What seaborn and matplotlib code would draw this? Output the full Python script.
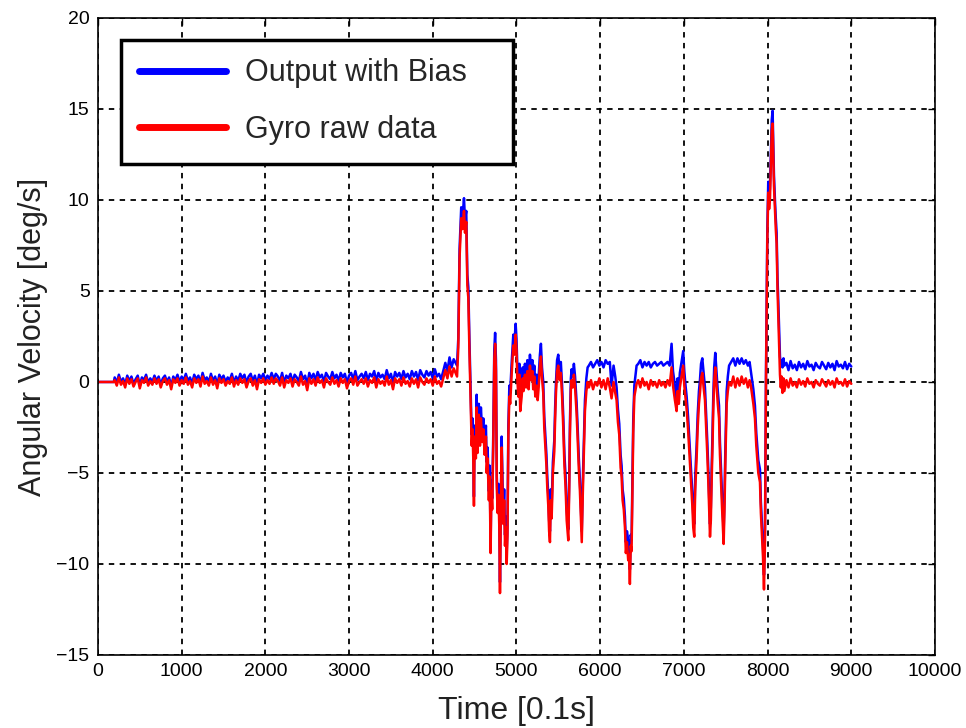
import numpy as np
import pandas as pd
import matplotlib
matplotlib.use("Agg")
import matplotlib.pyplot as plt
import seaborn as sns
from matplotlib import font_manager as fm

# ---------------- data ----------------
series_names = ["Output with Bias", "Gyro raw data"]
series_colors = ["#0000ff", "#ff0000"]

x_ticks = [0, 1000, 2000, 3000, 4000, 5000, 6000, 7000, 8000, 9000, 10000]
y_ticks = [-15, -10, -5, 0, 5, 10, 15, 20]

# idle lead-in
t_lead = [0, 190]
raw_lead = [0.0, 0.0]
out_lead = [0.0, 0.0]

# slow drift part, sampled every 25 (0.1 s units) from 200 to 4250
t_drift = list(range(200, 4251, 25))
raw_drift = [0.10, -0.20, 0.25, -0.15, 0.05, -0.30, 0.20, -0.10, 0.15, -0.25,
             0.00, 0.20, -0.35, 0.10, -0.05, 0.25, -0.20, 0.05, -0.15, 0.20,
             -0.10, 0.15, -0.30, 0.05, 0.20, -0.15, 0.10, -0.40, 0.15, -0.05,
             0.20, -0.20, 0.10, -0.10, 0.25, -0.15, 0.05, -0.30, 0.20, -0.05,
             0.15, -0.25, 0.30, -0.10, 0.05, -0.20, 0.25, -0.15, 0.10, -0.35,
             0.20, -0.05, 0.15, -0.20, 0.05, -0.10, 0.25, -0.25, 0.10, -0.15,
             0.20, -0.05, 0.15, -0.30, 0.05, 0.20, -0.20, 0.10, -0.40, 0.15,
             -0.05, 0.20, -0.15, 0.10, -0.10, 0.25, -0.10, 0.20, 0.05, -0.20,
             0.25, -0.30, 0.10, -0.05, 0.20, -0.25, 0.15, 0.00, -0.20, 0.30,
             -0.15, 0.05, -0.45, 0.20, -0.10, 0.15, -0.20, 0.25, -0.05, 0.10,
             -0.30, 0.20, 0.00, -0.15, 0.25, -0.10, 0.10, -0.25, 0.20, -0.05,
             0.15, -0.35, 0.05, 0.20, -0.15, 0.30, -0.20, 0.00, 0.15, -0.10,
             0.20, -0.25, 0.10, -0.05, 0.25, -0.30, 0.15, -0.10, 0.05, -0.20,
             0.30, -0.15, 0.10, -0.40, 0.20, -0.05, 0.15, -0.20, 0.25, -0.10,
             0.05, -0.25, 0.20, -0.10, 0.15, -0.30, 0.25, 0.00, -0.15, 0.20,
             -0.05, 0.15, -0.20, 0.30, -0.10, 0.05, -0.25, 0.20, 0.65, 0.20,
             0.85, 0.30, 0.75]
out_drift = [0.25, -0.05, 0.40, 0.00, 0.20, -0.15, 0.35, 0.05, 0.30, -0.10,
             0.15, 0.35, -0.20, 0.25, 0.10, 0.40, -0.05, 0.20, 0.00, 0.35,
             0.05, 0.30, -0.15, 0.20, 0.35, 0.00, 0.25, -0.25, 0.30, 0.10,
             0.40, 0.00, 0.30, 0.10, 0.45, 0.05, 0.25, -0.10, 0.40, 0.15,
             0.35, -0.05, 0.50, 0.10, 0.25, 0.00, 0.45, 0.05, 0.30, -0.15,
             0.40, 0.15, 0.35, 0.00, 0.25, 0.10, 0.45, -0.05, 0.30, 0.05,
             0.45, 0.20, 0.40, -0.05, 0.30, 0.45, 0.05, 0.35, -0.15, 0.40,
             0.20, 0.45, 0.10, 0.35, 0.15, 0.50, 0.15, 0.45, 0.30, 0.05,
             0.50, -0.05, 0.35, 0.20, 0.45, 0.00, 0.40, 0.25, 0.05, 0.55,
             0.15, 0.35, -0.15, 0.50, 0.20, 0.45, 0.10, 0.55, 0.25, 0.40,
             0.00, 0.50, 0.30, 0.15, 0.55, 0.20, 0.40, 0.05, 0.50, 0.25,
             0.45, -0.05, 0.35, 0.50, 0.15, 0.60, 0.10, 0.30, 0.45, 0.20,
             0.55, 0.10, 0.45, 0.30, 0.60, 0.05, 0.50, 0.25, 0.40, 0.15,
             0.65, 0.20, 0.45, -0.05, 0.55, 0.30, 0.50, 0.15, 0.60, 0.25,
             0.45, 0.15, 0.60, 0.30, 0.55, 0.10, 0.65, 0.40, 0.25, 0.60,
             0.35, 0.55, 0.20, 0.70, 0.30, 0.45, 0.15, 0.60, 1.05, 0.60,
             1.35, 0.80, 1.25]

# manoeuvre part
t_motion = [4290, 4305, 4320, 4340, 4355, 4373, 4385, 4400, 4413, 4425,
            4437, 4453, 4465, 4475, 4485, 4492, 4500, 4515, 4524, 4535,
            4550, 4564, 4575, 4590, 4604, 4620, 4635, 4644, 4655, 4670,
            4680, 4691, 4700, 4710, 4723, 4735, 4745, 4755, 4765, 4775,
            4785, 4795, 4803, 4812, 4823, 4833, 4843, 4853, 4863, 4873,
            4883, 4893, 4903, 4915, 4925, 4942, 4962, 4975, 4990, 5000,
            5010, 5022, 5035, 5045, 5062, 5075, 5085, 5101, 5115, 5130,
            5145, 5161, 5175, 5190, 5200, 5213, 5225, 5240, 5253, 5265,
            5280, 5292, 5305, 5320, 5332, 5345, 5358, 5368, 5380, 5390,
            5400, 5410, 5420, 5435, 5452, 5462, 5472, 5485, 5499, 5515,
            5530, 5545, 5559, 5573, 5587, 5600, 5619, 5630, 5639, 5650,
            5659, 5672, 5686, 5700, 5718, 5730, 5745, 5758, 5770, 5780,
            5792, 5805, 5818, 5835, 5850, 5865, 5890, 5915, 5940, 5965,
            5990, 6015, 6040, 6065, 6090, 6115, 6136, 6160, 6180, 6196,
            6212, 6228, 6244, 6256, 6268, 6282, 6296, 6307, 6320, 6335,
            6345, 6355, 6365, 6375, 6385, 6395, 6408, 6420, 6435, 6455,
            6480, 6505, 6530, 6555, 6580, 6605, 6630, 6655, 6680, 6705,
            6730, 6755, 6780, 6805, 6830, 6853, 6870, 6893, 6913, 6925,
            6940, 6952, 6975, 6992, 7005, 7020, 7033, 7050, 7062, 7073,
            7085, 7101, 7112, 7124, 7135, 7152, 7165, 7180, 7192, 7205,
            7220, 7236, 7252, 7265, 7280, 7292, 7302, 7312, 7322, 7331,
            7342, 7351, 7362, 7375, 7391, 7405, 7420, 7431, 7443, 7455,
            7465, 7475, 7485, 7495, 7511, 7525, 7540, 7565, 7590, 7615,
            7640, 7665, 7690, 7715, 7740, 7765, 7785, 7800, 7815, 7830,
            7849, 7865, 7889, 7909, 7920, 7935, 7945, 7957, 7969, 7981,
            7997, 8008, 8018, 8028, 8040, 8050, 8060, 8068, 8076, 8088,
            8098, 8108, 8118, 8128, 8138, 8148, 8158, 8168, 8178, 8190,
            8200]
raw_motion = [0.3, 1.9, 6.8, 9.0, 8.4, 9.4, 8.2, 8.8, 5.3, 4.6,
              1.9, -1.2, -3.5, -2.6, -4.4, -6.8, -3.0, -4.2, -1.4, -3.9,
              -1.8, -3.5, -2.0, -3.3, -2.6, -4.0, -3.0, -5.0, -4.2, -6.5,
              -5.2, -9.4, -6.0, -7.0, -3.4, 1.2, 2.1, 0.6, -5.8, -7.2,
              -6.2, -8.0, -11.6, -7.5, -3.6, -6.0, -7.8, -6.5, -9.0, -8.0,
              -10.0, -8.4, -3.0, -0.8, -1.2, 0.4, 2.0, 1.5, 2.6, 1.8,
              0.2, -0.8, 0.4, -1.6, -0.8, 0.2, -0.5, 0.4, -0.3, 0.6,
              -0.4, 0.9, 0.1, 0.6, -0.4, 0.3, -0.8, -0.2, -1.0, -0.3,
              0.9, 1.4, 0.2, -0.6, -2.5, -3.6, -4.6, -5.8, -6.8, -8.2,
              -8.8, -6.5, -7.5, -5.0, -3.8, -2.0, -0.6, 0.6, 0.9, 0.1,
              0.5, -0.8, -2.5, -4.6, -5.8, -7.6, -8.7, -6.0, -2.8, -0.4,
              0.1, -0.3, 0.4, -0.3, -1.7, -3.0, -4.8, -6.0, -7.6, -8.8,
              -6.2, -3.8, -1.6, -0.5, 0.0, -0.3, 0.1, -0.4, 0.0, -0.2,
              0.2, -0.3, 0.1, -0.4, 0.2, -0.3, -0.9, 0.0, -0.6, -1.0,
              -2.2, -2.9, -4.7, -5.2, -6.5, -7.0, -8.0, -9.4, -8.8, -9.8,
              -9.5, -11.1, -9.0, -9.3, -6.0, -2.8, -0.8, -0.5, -0.1, 0.1,
              -0.3, 0.2, -0.2, 0.0, -0.4, 0.1, -0.2, 0.0, -0.3, 0.1,
              -0.2, 0.0, -0.3, 0.1, -0.2, 0.8, -0.2, -1.0, -1.6, -0.5,
              -1.2, -0.3, 0.4, 0.9, -0.2, -0.9, -1.5, -2.6, -3.6, -4.5,
              -5.6, -6.8, -8.0, -8.5, -6.0, -4.2, -2.5, -1.2, -0.6, 0.2,
              0.5, -0.3, -1.0, -2.4, -4.0, -5.5, -7.0, -8.5, -7.6, -5.6,
              -3.5, -1.5, 0.0, 0.8, -0.3, -1.2, -2.0, -4.0, -5.4, -6.8,
              -7.8, -8.9, -7.0, -4.5, -1.2, -0.5, 0.0, -0.2, 0.3, -0.3,
              0.2, -0.2, 0.3, -0.1, 0.2, -0.3, 0.1, -0.2, -0.7, -1.2,
              -2.0, -3.5, -5.0, -5.5, -7.2, -8.6, -9.6, -11.4, -8.8, 0.0,
              7.8, 10.4, 9.5, 10.0, 12.0, 13.8, 14.2, 12.5, 10.8, 9.5,
              8.4, 7.6, 5.2, 3.6, 2.0, 0.4, -0.3, 0.3, -0.6, 0.2,
              -0.5]
out_motion = [0.9, 2.4, 7.3, 9.6, 9.0, 10.1, 8.9, 9.4, 5.9, 5.2,
              2.5, -0.6, -2.9, -2.0, -3.8, -6.3, -2.4, -3.6, -0.7, -3.3,
              -1.2, -2.9, -1.4, -2.7, -2.0, -3.4, -2.4, -4.4, -3.6, -6.0,
              -4.6, -8.9, -5.4, -6.4, -2.8, 1.8, 2.7, 1.2, -5.2, -6.6,
              -5.6, -7.4, -11.0, -6.9, -3.0, -5.4, -7.2, -5.9, -8.4, -7.4,
              -9.4, -7.8, -2.4, -0.2, -0.6, 1.0, 2.6, 2.1, 3.2, 2.4,
              0.9, -0.1, 1.0, -1.0, -0.2, 0.8, 0.1, 1.0, 0.4, 1.2,
              0.3, 1.5, 0.7, 1.2, 0.2, 0.9, -0.2, 0.4, -0.4, 0.3,
              1.5, 2.1, 0.8, 0.0, -1.9, -3.0, -4.0, -5.2, -6.2, -7.6,
              -8.2, -5.9, -6.9, -4.4, -3.2, -1.4, 0.0, 1.2, 1.5, 0.7,
              1.1, -0.2, -1.9, -4.0, -5.2, -7.0, -8.1, -5.4, -2.2, 0.2,
              0.7, 0.3, 1.0, 0.3, -1.1, -2.4, -4.2, -5.4, -7.0, -8.2,
              -5.6, -3.2, -1.0, 0.2, 0.8, 0.9, 1.1, 0.8, 1.0, 1.2,
              0.9, 1.1, 0.8, 1.2, 1.0, 1.1, -0.2, 0.9, 0.3, -0.3,
              -1.5, -2.3, -4.0, -4.6, -5.9, -6.4, -7.4, -8.8, -8.2, -8.7,
              -8.9, -10.3, -8.4, -8.7, -5.4, -2.1, -0.2, 0.3, 0.9, 1.0,
              1.2, 0.8, 1.1, 0.9, 1.1, 0.8, 1.0, 1.1, 0.9, 1.0,
              1.1, 0.9, 1.0, 1.1, 0.9, 2.1, 0.6, -0.2, -1.0, 0.2,
              -0.5, 0.5, 1.2, 1.7, 0.6, -0.2, -0.8, -1.9, -2.9, -3.8,
              -4.9, -6.1, -7.3, -7.8, -5.3, -3.5, -1.8, -0.5, 0.1, 1.0,
              1.3, 0.5, -0.3, -1.7, -3.3, -4.8, -6.3, -7.8, -6.9, -4.9,
              -2.8, -0.8, 0.8, 1.6, 0.5, -0.5, -1.3, -3.3, -4.7, -6.1,
              -7.1, -8.2, -6.3, -3.8, -0.5, 0.3, 0.9, 1.1, 1.3, 0.9,
              1.3, 1.0, 1.3, 1.0, 1.2, 0.9, 1.1, 0.6, 0.1, -0.4,
              -1.3, -2.8, -4.3, -4.8, -6.6, -8.0, -8.9, -10.6, -8.0, 0.5,
              8.4, 11.0, 10.2, 10.6, 12.6, 14.4, 14.9, 13.2, 11.4, 10.0,
              9.0, 8.2, 5.8, 4.4, 2.8, 1.4, 1.0, 1.2, 0.8, 1.3,
              0.9]

# final still part, sampled every 25 from 8225 to 9000
t_tail = list(range(8225, 9001, 25))
raw_tail = [0.10, -0.30, 0.20, -0.20, 0.00, -0.30, 0.15, -0.15, 0.05, -0.25,
            0.20, -0.10, 0.00, -0.30, 0.10, -0.10, -0.20, 0.15, -0.05, -0.25,
            0.10, -0.15, 0.05, -0.30, 0.20, -0.10, 0.00, -0.20, 0.15, -0.25,
            0.05, -0.10]
out_tail = [1.05, 0.65, 1.15, 0.75, 0.95, 0.65, 1.10, 0.80, 1.00, 0.70,
            1.15, 0.85, 0.95, 0.65, 1.05, 0.85, 0.75, 1.10, 0.90, 0.70,
            1.05, 0.80, 1.00, 0.65, 1.15, 0.85, 0.95, 0.75, 1.10, 0.70,
            1.00, 0.85]

# ---------------- build table ----------------
t_all = t_lead + t_drift + t_motion + t_tail
raw_all = raw_lead + raw_drift + raw_motion + raw_tail
out_all = out_lead + out_drift + out_motion + out_tail
df = pd.DataFrame({
    "time": t_all * 2,
    "value": out_all + raw_all,
    "series": [series_names[0]] * len(t_all) + [series_names[1]] * len(t_all),
})


def font_ok(name):
    try:
        fm.findfont(fm.FontProperties(family=name), fallback_to_default=False)
        return True
    except Exception:
        return False


sns.set_style("white")
base_font = "Liberation Sans" if font_ok("Liberation Sans") else "DejaVu Sans"
narrow_font = "Liberation Sans Narrow" if font_ok("Liberation Sans Narrow") else base_font
plt.rcParams["font.family"] = [base_font, "DejaVu Sans"]

fig = plt.figure(figsize=(9.66, 7.28), dpi=100)
ax = fig.add_axes([0.1014, 0.1003, 0.8665, 0.875])

for name, col in zip(series_names, series_colors):
    sub = df[df["series"] == name]
    sns.lineplot(data=sub, x="time", y="value", color=col, linewidth=1.8,
                 estimator=None, sort=False, label=name, ax=ax, legend=False)

ax.set_xlim(0, 10000)
ax.set_ylim(-15, 20)
ax.set_xticks(x_ticks)
ax.set_yticks(y_ticks)
ax.set_xticklabels([str(v) for v in x_ticks], fontsize=14, family=[narrow_font, "DejaVu Sans"])
ax.set_yticklabels([str(v) if v >= 0 else "\u2212" + str(-v) for v in y_ticks], fontsize=14)
ax.tick_params(direction="in", length=5, width=1, top=True, right=True,
               colors="black", pad=6)
ax.grid(True, color="black", linestyle=(0, (3, 3)), linewidth=1.3)
for s in ax.spines.values():
    s.set_visible(True)
    s.set_color("black")
    s.set_linewidth(1.2)

ax.set_xlabel("Time [0.1s]", fontsize=23, color="#222222", labelpad=11)
ax.set_ylabel("Angular Velocity [deg/s]", fontsize=22, color="#222222", labelpad=6)

handles = [plt.Line2D([0], [0], color=c, linewidth=5) for c in series_colors]
leg = ax.legend(handles, series_names, loc="upper left",
                bbox_to_anchor=(0.0275, 0.768, 0.4685, 0.1975), mode="expand",
                fontsize=22, frameon=True, fancybox=False, framealpha=1,
                edgecolor="black", borderpad=0.6, labelspacing=0.88,
                handlelength=2.85, handletextpad=0.62, borderaxespad=0)
leg.get_frame().set_linewidth(2.5)

fig.savefig("out.png", dpi=100)
